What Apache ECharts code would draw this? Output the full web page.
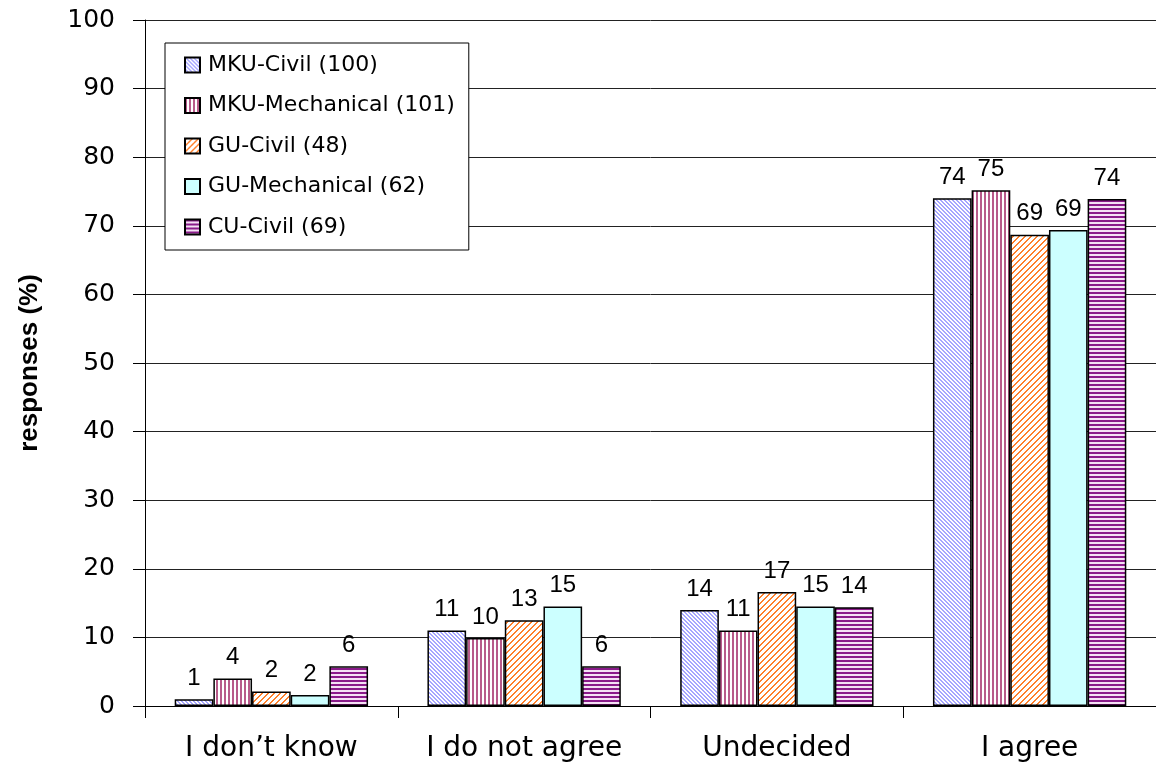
<!DOCTYPE html>
<html>
<head>
<meta charset="utf-8">
<script src="https://cdn.jsdelivr.net/npm/echarts@6/dist/echarts.min.js"></script>
<style>
  html, body { margin: 0; padding: 0; background: #fff; }
  #chart { width: 1156px; height: 778px; }
</style>
</head>
<body>
<div id="chart"></div>
<script>
// Survey answers, share of respondents per group (%)
const categories = ['I don\u2019t know', 'I do not agree', 'Undecided', 'I agree'];
const seriesNames = ['MKU-Civil (100)', 'MKU-Mechanical (101)', 'GU-Civil (48)', 'GU-Mechanical (62)', 'CU-Civil (69)'];
const mkuCivil = [1.0, 11.0, 14.0, 74.0];
const mkuMechanical = [4.0, 9.9, 11.0, 75.2];
const guCivil = [2.1, 12.5, 16.6, 68.7];
const guMechanical = [1.6, 14.5, 14.5, 69.4];
const cuCivil = [5.8, 5.8, 14.4, 73.9];
const yTicks = { min: 0, max: 100, interval: 10 };

// Small repeating hatch tiles used as bar fills
function hatch(size, fg, bg, test) {
  const c = document.createElement('canvas');
  c.width = size; c.height = size;
  const ctx = c.getContext('2d');
  ctx.fillStyle = bg;
  ctx.fillRect(0, 0, size, size);
  ctx.fillStyle = fg;
  for (let y = 0; y < size; y++) {
    for (let x = 0; x < size; x++) {
      if (test(x, y, size)) ctx.fillRect(x, y, 1, 1);
    }
  }
  return { image: c, repeat: 'repeat' };
}

const fills = [
  hatch(4, '#a6a6ff', '#ffffff', (x, y, n) => ((x - y + n * 4) % n) < 2),     // back-diagonal
  hatch(4, '#b85a8a', '#ffffff', (x, y, n) => (x % n) < 2),                   // vertical
  hatch(6, '#ff7f2a', '#ffffff', (x, y, n) => ((x + y) % n) < 2),             // forward-diagonal
  '#ccffff',                                                                 // solid
  hatch(4, '#8a1a8a', '#f4e0f4', (x, y, n) => (y % n) < 2)                    // horizontal
];

const values = [mkuCivil, mkuMechanical, guCivil, guMechanical, cuCivil];

const series = seriesNames.map((name, i) => ({
  name: name,
  type: 'bar',
  data: values[i],
  barGap: '0%',
  barCategoryGap: '23.5%',
  itemStyle: { color: fills[i], borderColor: '#000', borderWidth: 1.5 },
  label: {
    show: true,
    position: 'top',
    distance: 9,
    fontFamily: 'Liberation Sans, Arial, sans-serif',
    fontSize: 24,
    color: '#000',
    formatter: p => String(Math.round(p.value))
  }
}));

const chart = echarts.init(document.getElementById('chart'), null, { renderer: 'canvas' });
chart.setOption({
  backgroundColor: '#ffffff',
  animation: false,
  grid: { left: 145, top: 20, width: 1018, height: 686 },
  legend: {
    orient: 'vertical',
    left: 165,
    top: 43,
    padding: [10, 14, 11, 19],
    itemWidth: 15,
    itemHeight: 15,
    itemGap: 16.5,
    backgroundColor: '#ffffff',
    borderColor: '#000',
    borderWidth: 1,
    icon: 'rect',
    textStyle: {
      fontFamily: 'DejaVu Sans, sans-serif',
      fontSize: 22,
      lineHeight: 24,
      color: '#000',
      padding: [0, 0, 0, 3]
    },
    data: seriesNames
  },
  xAxis: {
    type: 'category',
    data: categories,
    axisLine: { lineStyle: { color: '#000', width: 1 } },
    axisTick: { show: true, length: 12, interval: 0, lineStyle: { color: '#000' } },
    axisLabel: {
      interval: 0,
      margin: 29,
      fontFamily: 'DejaVu Sans, sans-serif',
      fontSize: 28,
      color: '#000'
    },
    splitLine: { show: false }
  },
  yAxis: {
    type: 'value',
    min: yTicks.min,
    max: yTicks.max,
    interval: yTicks.interval,
    name: 'responses (%)',
    nameLocation: 'middle',
    nameGap: 102,
    nameTextStyle: {
      fontFamily: 'Liberation Sans, Arial, sans-serif',
      fontWeight: 'bold',
      fontSize: 26,
      color: '#000'
    },
    axisLine: { show: true, lineStyle: { color: '#000', width: 1 } },
    axisTick: { show: true, length: 12, lineStyle: { color: '#000' } },
    axisLabel: {
      margin: 30,
      fontFamily: 'DejaVu Sans, sans-serif',
      fontSize: 25,
      color: '#000'
    },
    splitLine: { show: true, lineStyle: { color: '#222', width: 1 } }
  },
  series: series
});
</script>
</body>
</html>
